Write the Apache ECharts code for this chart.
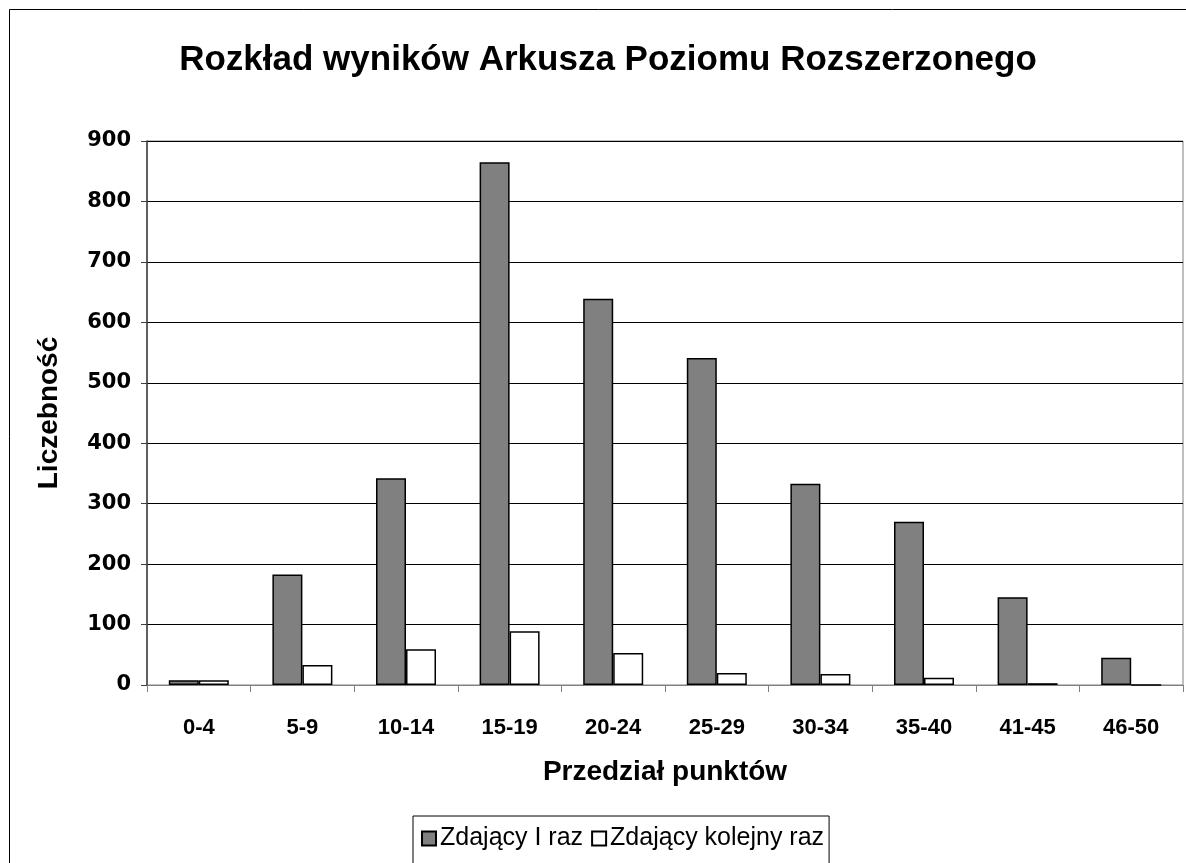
<!DOCTYPE html>
<html>
<head>
<meta charset="utf-8">
<script src="https://cdn.jsdelivr.net/npm/echarts@6/dist/echarts.min.js"></script>
<style>
  html, body { margin: 0; padding: 0; background: #fff; }
  #chart { width: 1186px; height: 863px; }
</style>
</head>
<body>
<div id="chart"></div>
<script>
// przedziały punktów
const categories = ['0-4', '5-9', '10-14', '15-19', '20-24', '25-29', '30-34', '35-40', '41-45', '46-50'];
// zdający po raz pierwszy
const firstTime = [8, 183, 342, 865, 639, 541, 333, 270, 145, 45];
// zdający kolejny raz
const nextTime = [8, 33, 59, 89, 53, 20, 18, 12, 3, 0];
const yTicks = { min: 0, max: 900, interval: 100 };

const chart = echarts.init(document.getElementById('chart'));
const font = 'Liberation Sans, Arial, sans-serif';
const wide = 'DejaVu Sans, Verdana, sans-serif';

chart.setOption({
  animation: false,
  textStyle: { fontFamily: font },
  graphic: [
    {
      type: 'rect',
      shape: { x: 9.5, y: 9.5, width: 1190, height: 870 },
      style: { fill: 'none', stroke: '#000', lineWidth: 1 },
      silent: true
    }
  ],
  title: {
    text: 'Rozkład wyników Arkusza Poziomu Rozszerzonego',
    left: 603,
    top: 38,
    textAlign: 'center',
    textStyle: { fontFamily: font, fontSize: 35, fontWeight: 'bold', color: '#000' }
  },
  grid: {
    left: 147,
    right: 3,
    top: 141,
    bottom: 178,
    show: true,
    borderColor: '#808080',
    borderWidth: 1,
    backgroundColor: 'transparent'
  },
  legend: {
    left: 413,
    top: 816,
    itemWidth: 14,
    itemHeight: 14,
    itemGap: 8,
    icon: 'rect',
    padding: [10, 5, 30, 8],
    borderColor: '#000',
    borderWidth: 1,
    textStyle: { fontFamily: font, fontSize: 25, color: '#000', padding: [0, 0, 0, -1] },
    data: ['Zdający I raz', 'Zdający kolejny raz']
  },
  xAxis: {
    type: 'category',
    data: categories,
    name: 'Przedział punktów',
    nameLocation: 'middle',
    nameGap: 73,
    nameTextStyle: { fontFamily: font, fontSize: 28, fontWeight: 'bold', color: '#000' },
    axisLine: { lineStyle: { color: '#808080', width: 1 } },
    axisTick: { show: true, length: 7, lineStyle: { color: '#808080' } },
    axisLabel: { fontFamily: font, fontSize: 22, fontWeight: 'bold', color: '#000', margin: 32 }
  },
  yAxis: {
    type: 'value',
    min: yTicks.min,
    max: yTicks.max,
    interval: yTicks.interval,
    name: 'Liczebność',
    nameLocation: 'middle',
    nameGap: 84,
    nameTextStyle: { fontFamily: font, fontSize: 28, fontWeight: 'bold', color: '#000' },
    axisLine: { show: true, lineStyle: { color: '#404040', width: 1.5 } },
    axisTick: { show: true, inside: false, length: 6, lineStyle: { color: '#404040' } },
    axisLabel: { fontFamily: wide, fontSize: 21, fontWeight: 'bold', color: '#000', margin: 16 },
    splitLine: { lineStyle: { color: '#000', width: 1 } }
  },
  series: [
    {
      name: 'Zdający I raz',
      type: 'bar',
      data: firstTime,
      barWidth: 30,
      barGap: '0%',
      itemStyle: { color: '#808080', borderColor: '#000', borderWidth: 1.5 }
    },
    {
      name: 'Zdający kolejny raz',
      type: 'bar',
      data: nextTime,
      barWidth: 30,
      barGap: '0%',
      itemStyle: { color: '#fff', borderColor: '#000', borderWidth: 1.5 }
    }
  ]
});
</script>
</body>
</html>
